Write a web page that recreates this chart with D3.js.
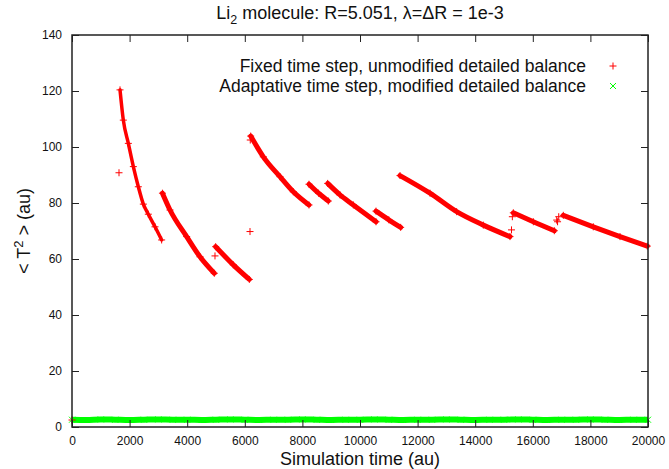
<!DOCTYPE html>
<html>
<head>
<meta charset="utf-8">
<script src="https://cdn.jsdelivr.net/npm/d3@7"></script>
<style>
  body { margin: 0; background: #fff; }
  svg text { font-family: "Liberation Sans", Arial, sans-serif; fill: #111; }
</style>
</head>
<body>
<svg width="669" height="469"></svg>
<script>
// x ticks, y ticks
const xTicks = [0, 2000, 4000, 6000, 8000, 10000, 12000, 14000, 16000, 18000, 20000];
const yTicks = [0, 20, 40, 60, 80, 100, 120, 140];

// Fixed time step: runs of [time, <T^2>]
const fixedRuns = [
  [[1667, 120.4], [1782, 109.6], [1956, 101.3], [2130, 93.0], [2303, 85.8], [2477, 79.6], [2650, 76.0], [2882, 71.5], [3113, 66.8]],
  [[3140, 83.5], [3403, 77.5], [3981, 68.0], [4444, 60.8], [4941, 54.9]],
  [[4988, 64.4], [5601, 57.9], [6157, 52.7]],
  [[6204, 103.9], [6643, 96.5], [7222, 89.4], [7685, 84.0], [8229, 79.3]],
  [[8229, 86.7], [8560, 83.5], [8900, 80.7]],
  [[8878, 87.0], [9306, 82.9], [9769, 79.3], [10556, 73.3]],
  [[10556, 77.1], [11000, 74.0], [11412, 71.3]],
  [[11389, 89.8], [12431, 83.5], [13356, 76.9], [14282, 72.1], [15208, 68.0]],
  [[15324, 76.5], [16019, 73.3], [16747, 70.1]],
  [[17060, 75.6], [18101, 71.5], [19028, 68.0], [19976, 64.6]]
];
// lone points of the same series
const fixedSingles = [[0, 2.5], [1632, 90.8], [4965, 61.1], [6181, 69.8], [6190, 102.5], [15260, 70.4], [15290, 75.1],
  [16830, 73.9], [16900, 75.1], [16860, 73.3]];

// Adaptative time step: sampled every 500 au
const adaptTimes = d3.range(0, 20001, 500);
const adaptValues = [2.6, 2.5, 2.7, 2.6, 2.5, 2.6, 2.7, 2.6, 2.6, 2.5, 2.6, 2.7, 2.6, 2.5, 2.6, 2.6, 2.7, 2.6, 2.5, 2.6, 2.6,
  2.7, 2.6, 2.5, 2.6, 2.6, 2.7, 2.6, 2.5, 2.6, 2.6, 2.7, 2.6, 2.5, 2.6, 2.6, 2.7, 2.6, 2.5, 2.6, 2.6];

const legendLabels = ["Fixed time step, unmodified detailed balance", "Adaptative time step, modified detailed balance"];

const svg = d3.select("svg"),
  margin = { left: 72, right: 21, top: 35, bottom: 42 },
  width = +svg.attr("width"),
  height = +svg.attr("height");

const x = d3.scaleLinear().domain([0, 20000]).range([margin.left, width - margin.right]);
const y = d3.scaleLinear().domain([0, 140]).range([height - margin.bottom, margin.top]);

const red = "#ff0000", green = "#00ff00";

// marks
const line = d3.line().x((d) => x(d[0])).y((d) => y(d[1])).curve(d3.curveMonotoneX);
const plot = svg.append("g");

plot.selectAll(".gband")
  .data([adaptTimes.map((t, i) => [t, adaptValues[i]])])
  .enter().append("path")
  .attr("d", line)
  .attr("fill", "none")
  .attr("stroke", green)
  .attr("stroke-width", 6);

function plus(g, px, py, s) {
  g.append("path")
    .attr("d", `M${px - s},${py}H${px + s}M${px},${py - s}V${py + s}`)
    .attr("stroke", red).attr("stroke-width", 1);
}
function cross(g, px, py, s) {
  g.append("path")
    .attr("d", `M${px - s},${py - s}L${px + s},${py + s}M${px - s},${py + s}L${px + s},${py - s}`)
    .attr("stroke", green).attr("stroke-width", 1);
}

plot.selectAll(".run")
  .data(fixedRuns)
  .enter().append("path")
  .attr("class", "run")
  .attr("d", line)
  .attr("fill", "none")
  .attr("stroke", red)
  .attr("stroke-width", (d, i) => (i === 0 ? 3.5 : 5))
  .attr("stroke-linecap", "round");

fixedRuns.flat().concat(fixedSingles).forEach((d) => plus(plot, x(d[0]), y(d[1]), 3.5));
adaptTimes.forEach((t, i) => cross(plot, x(t), y(adaptValues[i]), 3));

// axes, gnuplot style ticks pointing in
svg.append("g")
  .attr("transform", `translate(0,${height - margin.bottom})`)
  .call(d3.axisBottom(x).tickValues(xTicks).tickFormat(d3.format("d")).tickSizeInner(-7).tickSizeOuter(0).tickPadding(9));
svg.append("g")
  .attr("transform", `translate(0,${margin.top})`)
  .call(d3.axisTop(x).tickValues(xTicks).tickFormat("").tickSizeInner(-7).tickSizeOuter(0));
svg.append("g")
  .attr("transform", `translate(${margin.left},0)`)
  .call(d3.axisLeft(y).tickValues(yTicks).tickSizeInner(-7).tickSizeOuter(0).tickPadding(10));
svg.append("g")
  .attr("transform", `translate(${width - margin.right},0)`)
  .call(d3.axisRight(y).tickValues(yTicks).tickFormat("").tickSizeInner(-7).tickSizeOuter(0));

svg.selectAll(".domain").remove();
svg.selectAll(".tick line").attr("stroke", "#222");
svg.selectAll(".tick text").style("font-size", "12px").attr("fill", "#111");

svg.append("rect")
  .attr("x", margin.left).attr("y", margin.top)
  .attr("width", width - margin.left - margin.right)
  .attr("height", height - margin.top - margin.bottom)
  .attr("fill", "none").attr("stroke", "#222").attr("stroke-width", 1.5);

// title
const title = svg.append("text")
  .attr("x", (margin.left + width - margin.right) / 2).attr("y", 19)
  .attr("text-anchor", "middle").style("font-size", "18px");
title.append("tspan").text("Li");
title.append("tspan").attr("dy", 5).style("font-size", "12.5px").text("2");
title.append("tspan").attr("dy", -5).text(" molecule: R=5.051, λ=ΔR = 1e-3");

// axis labels
svg.append("text")
  .attr("x", (margin.left + width - margin.right) / 2).attr("y", 465)
  .attr("text-anchor", "middle").style("font-size", "18px")
  .text("Simulation time (au)");

const ylab = svg.append("text")
  .attr("transform", `translate(30,${y(70)}) rotate(-90)`)
  .attr("text-anchor", "middle").style("font-size", "18px");
ylab.append("tspan").text("< T");
ylab.append("tspan").attr("dy", -7).style("font-size", "13px").text("2");
ylab.append("tspan").attr("dy", 7).text(" > (au)");

// legend
const legend = svg.append("g");
legendLabels.forEach((lab, i) => {
  const ly = 66 + i * 20;
  legend.append("text")
    .attr("x", 586).attr("y", ly + 6)
    .attr("text-anchor", "end").style("font-size", "17.5px")
    .text(lab);
  if (i === 0) plus(legend, 613, ly, 3.5);
  else cross(legend, 613, ly, 3);
});
</script>
</body>
</html>
